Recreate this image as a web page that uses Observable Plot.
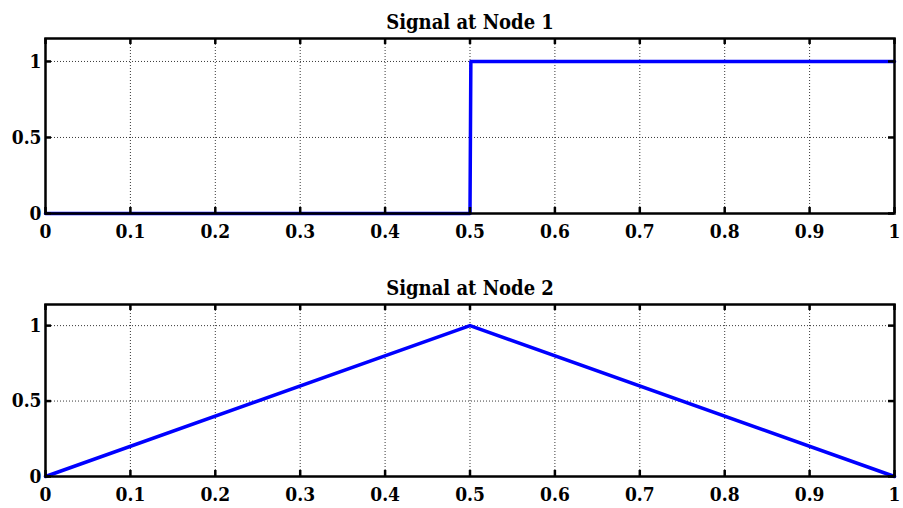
<!DOCTYPE html>
<html><head><meta charset="utf-8">
<script src="https://cdn.jsdelivr.net/npm/d3@7"></script>
<script src="https://cdn.jsdelivr.net/npm/@observablehq/plot@0.6"></script>
<style>
body{margin:0;background:#fff;}
#wrap{width:903px;}
</style>
</head><body><div id="wrap"></div>
<script>
const titles = ["Signal at Node 1", "Signal at Node 2"];
const xTicks = [0, 0.1, 0.2, 0.3, 0.4, 0.5, 0.6, 0.7, 0.8, 0.9, 1];
const xTickLabels = ["0", "0.1", "0.2", "0.3", "0.4", "0.5", "0.6", "0.7", "0.8", "0.9", "1"];
const yTicks = [0, 0.5, 1];
const yTickLabels = ["0", "0.5", "1"];
const node1X = [0, 0.5, 0.501, 1];
const node1Y = [0, 0, 1, 1];
const node2X = [0, 0.5, 1];
const node2Y = [0, 1, 0];

const FONT = "'DejaVu Serif Condensed', 'DejaVu Serif', serif";

function panel(title, xs, ys, yMax, mTop, mBottom) {
  const H = 254;
  const frameH = H - mTop - mBottom;
  const data = xs.map((x, i) => ({x, y: ys[i]}));
  return Plot.plot({
    width: 903, height: H,
    marginLeft: 45, marginRight: 9, marginTop: mTop, marginBottom: mBottom,
    style: {fontFamily: FONT, fontWeight: "bold", fontSize: "19px", color: "#000", background: "#fff", overflow: "visible"},
    x: {domain: [0, 1], axis: null},
    y: {domain: [0, yMax], axis: null},
    marks: [
      Plot.gridX(xTicks.slice(1, -1), {stroke: "#222", strokeOpacity: 0.9, strokeDasharray: "1,2", strokeWidth: 1}),
      Plot.gridY(yTicks.slice(1), {stroke: "#222", strokeOpacity: 0.9, strokeDasharray: "1,2", strokeWidth: 1}),
      Plot.line(data, {x: "x", y: "y", stroke: "#0000ff", strokeWidth: 3.5, clip: false}),
      Plot.frame({stroke: "#000", strokeWidth: 2.5}),
      Plot.tickX(xTicks, {x: d => d, stroke: "#000", strokeWidth: 2.5, insetTop: frameH - 6}),
      Plot.tickX(xTicks, {x: d => d, stroke: "#000", strokeWidth: 2.5, insetBottom: frameH - 6}),
      Plot.tickY(yTicks, {y: d => d, stroke: "#000", strokeWidth: 2.5, insetRight: 849 - 6}),
      Plot.tickY(yTicks, {y: d => d, stroke: "#000", strokeWidth: 2.5, insetLeft: 849 - 6}),
      Plot.text(xTicks, {x: d => d, frameAnchor: "bottom", lineAnchor: "top", dy: 11, text: (d, i) => xTickLabels[i], fontSize: 19, fontWeight: "bold", fill: "#000"}),
      Plot.text(yTicks, {y: d => d, frameAnchor: "left", dx: -4, textAnchor: "end", text: (d, i) => yTickLabels[i], fontSize: 19, fontWeight: "bold", fill: "#000"}),
      Plot.text([title], {frameAnchor: "top", dy: -24, text: d => d, fontSize: 20, fontWeight: "bold", fill: "#000"})
    ]
  });
}

const wrap = document.getElementById("wrap");
wrap.appendChild(panel(titles[0], node1X, node1Y, 1.151, 38, 41));
wrap.appendChild(panel(titles[1], node2X, node2Y, 1.14, 50, 32));
</script>
</body></html>
